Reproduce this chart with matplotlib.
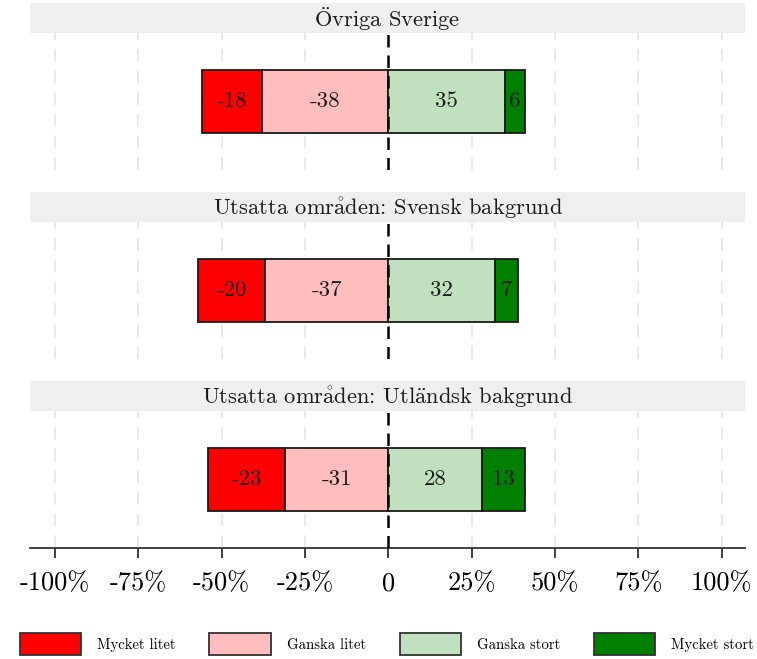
import matplotlib
matplotlib.use("Agg")
import matplotlib.pyplot as plt
from matplotlib.patches import Patch

plt.rcParams['font.family'] = ['cmr10', 'DejaVu Serif']
plt.rcParams['mathtext.fontset'] = 'cm'
plt.rcParams['axes.unicode_minus'] = False
plt.rcParams['axes.formatter.use_mathtext'] = False

panels = ["Övriga Sverige", "Utsatta områden: Svensk bakgrund", "Utsatta områden: Utländsk bakgrund"]
categories = ["Mycket litet", "Ganska litet", "Ganska stort", "Mycket stort"]
mycket_litet = [-18, -20, -23]
ganska_litet = [-38, -37, -31]
ganska_stort = [35, 32, 28]
mycket_stort = [6, 7, 13]
colors = ["#ff0000", "#ffbdbd", "#c0e0c0", "#007f00"]
xticks = [-100, -75, -50, -25, 0, 25, 50, 75, 100]
xticklabels = ["-100%", "-75%", "-50%", "-25%", "0", "25%", "50%", "75%", "100%"]

# cmr10 lacks accented letters: draw them with Computer Modern mathtext accents
accent_map = {"Ö": r"$\ddot{\mathrm{O}}$", "å": r"$\mathring{\mathrm{a}}$", "ä": r"$\ddot{\mathrm{a}}$"}


def cm_text(s):
    return "".join(accent_map.get(ch, ch) for ch in s)


W, H = 757, 659
fig = plt.figure(figsize=(W / 100, H / 100), dpi=100)

left_px, right_px = 30, 745
strip_h = 30
plot_h = 137
tops = [3, 192, 381]

for i, name in enumerate(panels):
    top = tops[i] + strip_h
    ax = fig.add_axes([left_px / W, 1 - (top + plot_h) / H, (right_px - left_px) / W, plot_h / H])
    ax.set_xlim(-107.5, 107)
    ax.set_ylim(-1, 1)
    for x in xticks:
        if x != 0:
            ax.axvline(x, color="#e8e8e8", lw=1.3, ls=(0, (7, 5)), zorder=0)
    ml, gl, gs, ms = mycket_litet[i], ganska_litet[i], ganska_stort[i], mycket_stort[i]
    h = 0.93
    segs = [(gl + ml, -ml, ml), (gl, -gl, gl), (0, gs, gs), (gs, ms, ms)]
    for (start, width, val), c in zip(segs, colors):
        ax.barh(0, width, left=start, height=h, color=c, edgecolor="#1a1a1a", lw=1.3, zorder=2)
        ax.text(start + width / 2, 0, f"{val}", ha="center", va="center", fontsize=16.5,
                color="#1a1a1a", zorder=4)
    ax.axvline(0, color="black", lw=1.8, ls=(0, (5, 3.2)), zorder=3)
    for s in ["top", "right", "left"]:
        ax.spines[s].set_visible(False)
    ax.set_yticks([])
    if i < 2:
        ax.spines["bottom"].set_visible(False)
        ax.set_xticks([])
    else:
        ax.spines["bottom"].set_color("#333333")
        ax.spines["bottom"].set_linewidth(1.3)
        ax.set_xticks(xticks)
        ax.set_xticklabels(xticklabels, fontsize=19)
        ax.tick_params(axis="x", length=7, width=1.3, color="#333333", pad=10)
    sax = fig.add_axes([left_px / W, 1 - top / H, (right_px - left_px) / W, strip_h / H])
    sax.set_facecolor("#efefef")
    for s in sax.spines.values():
        s.set_visible(False)
    sax.set_xticks([])
    sax.set_yticks([])
    sax.text(0.5, 0.47, cm_text(name), ha="center", va="center", fontsize=16.2, color="#1a1a1a",
             transform=sax.transAxes)

handles = [Patch(facecolor=c, edgecolor="#333333", lw=1.3) for c in colors]
fig.legend(handles, categories, loc="center", bbox_to_anchor=(387 / W, 1 - 644 / H), ncol=4,
           frameon=False, fontsize=10.6, handlelength=4.15, handleheight=1.9,
           handletextpad=1.1, columnspacing=2.3, borderpad=0, borderaxespad=0)

fig.savefig("out.png", dpi=100)
